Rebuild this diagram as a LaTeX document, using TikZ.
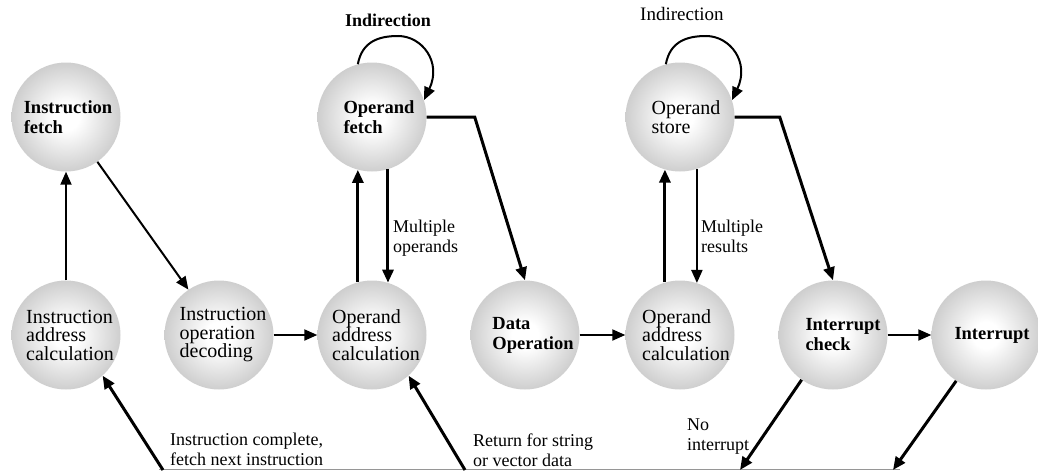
\documentclass[tikz,border=0pt]{standalone}
\usepackage{fontspec}
\setmainfont{Liberation Serif}
\usetikzlibrary{arrows.meta}
\definecolor{ballgray}{RGB}{142,142,142}
\definecolor{linegray}{RGB}{150,150,150}
\pgfdeclareradialshading{ballshade}{\pgfpoint{0bp}{0bp}}{color(0bp)=(white); color(6bp)=(white); color(50bp)=(ballgray)}
\newcommand{\nodefontR}{\fontsize{20}{18.5}\selectfont}
\newcommand{\nodefontB}{\fontsize{18.5}{20}\selectfont\bfseries}
\newcommand{\lblfont}{\fontsize{18}{20}\selectfont}
\begin{document}
\begin{tikzpicture}[x=1pt,y=-1pt,
  ball/.style={circle, minimum size=109pt, inner sep=0pt, shading=ballshade},
  rtxt/.style={align=left, inner sep=0pt, font=\nodefontR, text=black},
  btxt/.style={align=left, inner sep=0pt, font=\nodefontB, text=black},
  lbl/.style={anchor=north west, align=left, inner sep=0pt, font=\lblfont},
  arr/.style={line width=2pt, -{Triangle[length=13pt,width=11pt]}},
  tarr/.style={line width=3pt, -{Triangle[length=13pt,width=11pt]}},
]
\useasboundingbox (0,0) rectangle (1038,471);

% top row
\node[ball, label={[btxt, xshift=2pt]center:{Instruction\\fetch}}] (if) at (66,117) {};
\node[ball, label={[btxt, xshift=7pt]center:{Operand\\fetch}}] (of) at (372,117) {};
\node[ball, label={[rtxt, xshift=6pt]center:{Operand\\store}}] (os) at (680,117) {};

% bottom row
\node[ball, label={[rtxt, xshift=4pt]center:{Instruction\\address\\calculation}}] (iac) at (66,335) {};
\node[ball, label={[rtxt, xshift=4pt]center:{Instruction\\operation\\decoding}}] (iod) at (219,335) {};
\node[ball, label={[rtxt, xshift=4pt]center:{Operand\\address\\calculation}}] (oac) at (372,335) {};
\node[ball, label={[btxt, xshift=8pt]center:{Data\\Operation}}] (dop) at (525,335) {};
\node[ball, label={[rtxt, xshift=6pt]center:{Operand\\address\\calculation}}] (oac2) at (680,335) {};
\node[ball, label={[btxt, xshift=10pt]center:{Interrupt\\check}}] (ic) at (833,335) {};
\node[ball, label={[btxt, xshift=6pt]center:{Interrupt}}] (int) at (986,335) {};

% bottom return line
\coordinate (bl) at (159,469.5);
\coordinate (br) at (900,469.5);
\coordinate (b1) at (163,470);
\coordinate (b2) at (465,470);
\coordinate (b3) at (740,470);
\coordinate (b4) at (893,470);
\draw[linegray, line width=1pt] (bl) -- (br);

% connectors
\draw[arr] (iac.north) -- (if.south);
\draw[arr] (if.-55) -- (iod.124);
\draw[arr] (iod.east) -- (oac.west);
\draw[tarr] (oac.105) -- (of.-105);
\draw[tarr] (of.-73) -- (oac.73);
\draw[tarr] (of.east) -- ++(48,0) -- (dop.north);
\draw[arr] (dop.east) -- (oac2.west);
\draw[tarr] (oac2.106) -- (os.-106);
\draw[arr] (os.-72) -- (oac2.72);
\draw[tarr] (os.east) -- ++(45,0) -- (ic.north);
\draw[arr] (ic.east) -- (int.west);
\draw[tarr] (ic.235) -- (b3);
\draw[tarr] (int.237) -- (b4);
\draw[tarr] (b1) -- (iac.-48);
\draw[tarr] (b2) -- (oac.-48);

% indirection loops
\draw[arr] (of.105) .. controls (362,42) and (378,36) .. (398,36) .. controls (422,36) and (442,62) .. (of.18);
\draw[arr] (os.105) .. controls (670,42) and (686,36) .. (706,36) .. controls (730,36) and (750,62) .. (os.18);

% labels
\node[lbl, font=\lblfont\bfseries] (ind1) at (345,12) {\strut Indirection};
\node[lbl, font=\fontsize{19}{20}\selectfont] (ind2) at (640,6) {\strut Indirection};
\node[lbl] (mo) at (393,218) {\strut Multiple\\operands};
\node[lbl] (mr) at (701,218) {\strut Multiple\\results};
\node[lbl] (icl) at (170,431) {\strut Instruction complete,\\fetch next instruction};
\node[lbl] (ret) at (473,432) {\strut Return for string\\or vector data};
\node[lbl] (noi) at (687,416) {\strut No\\interrupt};
\end{tikzpicture}
\end{document}
